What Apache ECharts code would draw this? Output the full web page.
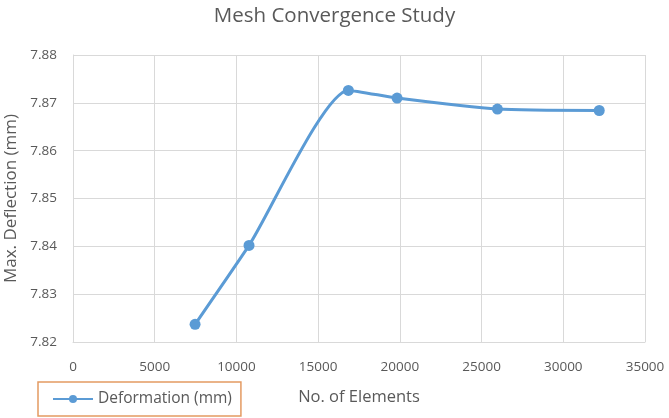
<!DOCTYPE html>
<html>
<head>
<meta charset="utf-8">
<script src="https://cdn.jsdelivr.net/npm/echarts@6/dist/echarts.min.js"></script>
<style>
  html, body { margin: 0; padding: 0; background: #fff; }
  #chart { width: 669px; height: 418px; }
</style>
</head>
<body>
<div id="chart"></div>
<script>
const elements = [7470, 10770, 16850, 19830, 25970, 32200]
const deformation = [7.8237, 7.8402, 7.8726, 7.8710, 7.8687, 7.8684]
const seriesName = 'Deformation (mm)'

const textColor = '#595959'
const font = 'Open Sans, sans-serif'

const chart = echarts.init(document.getElementById('chart'))

chart.setOption({
  backgroundColor: '#fff',
  animation: false,
  title: {
    text: 'Mesh Convergence Study',
    left: 'center',
    top: 1,
    textStyle: { color: textColor, fontSize: 20.5, fontWeight: 'normal', fontFamily: font }
  },
  legend: {
    left: 38,
    top: 382,
    padding: [9, 9, 9, 14],
    itemWidth: 40,
    itemHeight: 10,
    itemGap: 4,
    borderColor: '#E49B62',
    borderWidth: 1.5,
    textStyle: { color: textColor, fontSize: 15.5, fontFamily: font },
    data: [seriesName]
  },
  grid: { left: 73, right: 24, top: 55, bottom: 76, outerBoundsMode: 'none' },
  xAxis: {
    type: 'value',
    min: 0,
    max: 35000,
    interval: 5000,
    name: 'No. of Elements',
    nameLocation: 'middle',
    nameGap: 47,
    nameTextStyle: { color: textColor, fontSize: 16.5, fontFamily: font },
    axisLine: { show: true, lineStyle: { color: '#D9D9D9' } },
    axisTick: { show: false },
    axisLabel: { color: textColor, fontSize: 13.5, fontFamily: font, margin: 18, formatter: v => String(v) },
    splitLine: { show: true, lineStyle: { color: '#D9D9D9' } }
  },
  yAxis: {
    type: 'value',
    min: 7.82,
    max: 7.88,
    interval: 0.01,
    name: 'Max. Deflection (mm)',
    nameLocation: 'middle',
    nameGap: 52,
    nameTextStyle: { color: textColor, fontSize: 17, fontFamily: font },
    axisLine: { show: true, lineStyle: { color: '#D9D9D9' } },
    axisTick: { show: false },
    axisLabel: {
      color: textColor, fontSize: 13.5, fontFamily: font, margin: 16,
      formatter: v => v.toFixed(2)
    },
    splitLine: { show: true, lineStyle: { color: '#D9D9D9' } }
  },
  series: [
    {
      name: seriesName,
      type: 'line',
      data: elements.map((x, i) => [x, deformation[i]]),
      smooth: 0.2,
      symbol: 'circle',
      symbolSize: 11,
      lineStyle: { color: '#5B9BD5', width: 3 },
      itemStyle: { color: '#5B9BD5' }
    }
  ]
})
</script>
</body>
</html>
